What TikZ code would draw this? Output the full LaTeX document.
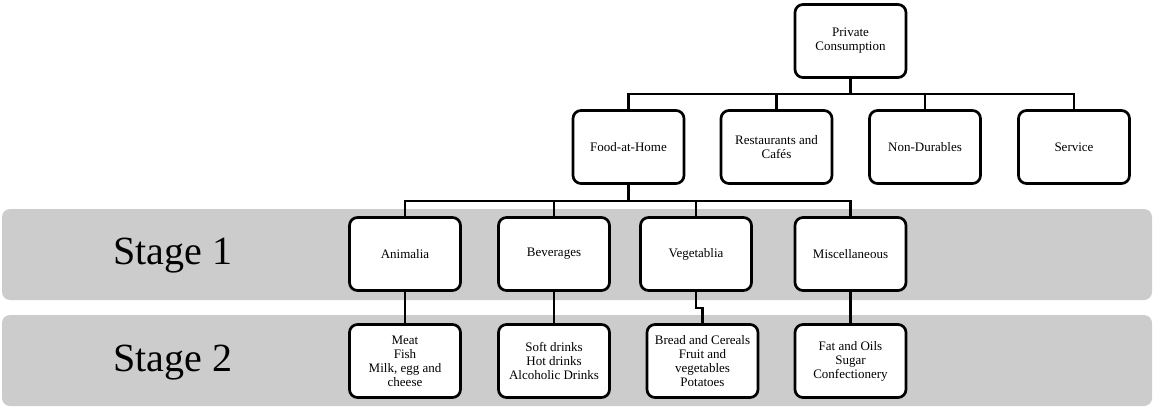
\documentclass[tikz,border=0pt]{standalone}
\usepackage{fontspec}
\setmainfont{Liberation Serif}
\definecolor{bandgray}{RGB}{204,204,204}
\usetikzlibrary{positioning, calc}

\begin{document}
\begin{tikzpicture}[x=1pt, y=-1pt,
  box/.style={draw, line width=2.7pt, rounded corners=8pt, fill=white,
    minimum width=111pt, minimum height=73pt, inner sep=2pt,
    align=center, font=\fontsize{13}{14}\selectfont},
  conn/.style={line width=2.7pt},
  stage/.style={font=\fontsize{40}{40}\selectfont}]
  \useasboundingbox (0,0) rectangle (1154,407);

  % Stage bands
  \fill[bandgray, rounded corners=8pt] (2,209) rectangle (1152,300);
  \fill[bandgray, rounded corners=8pt] (2,315) rectangle (1152,406);
  \node[stage] (stage1) at (173,256) {Stage 1};
  \node[stage] (stage2) at (173,363) {Stage 2};

  % Top levels
  \node[box] (private) at (850.5,41) {Private\\Consumption};
  \node[box] (food) at (628.5,147) {Food-at-Home};
  \node[box] (rest) at (776.5,147) {Restaurants and\\Cafés};
  \node[box] (nondur) at (925,147) {Non-Durables};
  \node[box] (service) at (1074,147) {Service};

  % Stage 1
  \node[box] (animalia) at (405,254) {Animalia};
  \node[box] (beverages) at (554,254) {Beverages};
  \node[box] (vegetablia) at (696,254) {Vegetablia};
  \node[box] (misc) at (850.5,254) {Miscellaneous};

  % Stage 2
  \node[box] (meat) at (405,361) {Meat\\Fish\\Milk, egg and\\cheese};
  \node[box] (drinks) at (554,361) {Soft drinks\\Hot drinks\\Alcoholic Drinks};
  \node[box] (bread) at (702.5,361) {Bread and Cereals\\Fruit and\\vegetables\\Potatoes};
  \node[box] (fat) at (850.5,361) {Fat and Oils\\Sugar\\Confectionery};

  % Connectors
  \coordinate (bus1) at (0,94);
  \coordinate (bus2) at (0,201);
  \coordinate (jog) at (0,308);
  \foreach \c in {food, rest, nondur, service}
    \draw[conn] (private.south) |- (\c.north |- bus1) -- (\c.north);
  \foreach \c in {animalia, beverages, vegetablia, misc}
    \draw[conn] (food.south) |- (\c.north |- bus2) -- (\c.north);
  \draw[conn] (animalia) -- (meat);
  \draw[conn] (beverages) -- (drinks);
  \draw[conn] (vegetablia.south) |- (bread.north |- jog) -- (bread.north);
  \draw[conn] (misc) -- (fat);
\end{tikzpicture}
\end{document}
